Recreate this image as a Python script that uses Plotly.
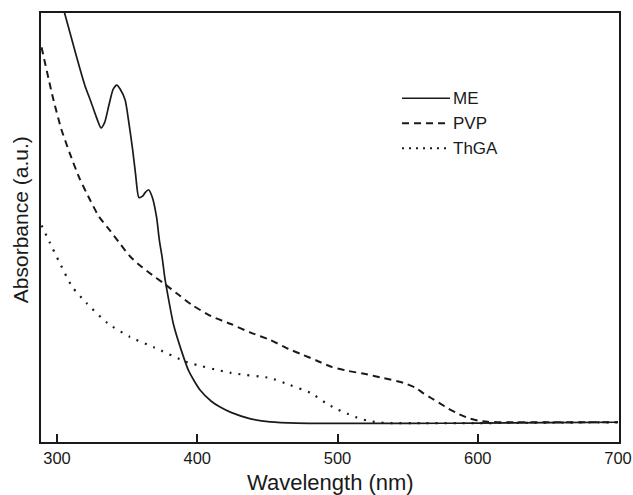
import plotly.graph_objects as go

# ---------------- data ----------------
me_wl = [289, 295, 300, 305, 310, 316, 320, 324, 328, 331.4, 334, 337, 340, 342.6, 345,
         348.6, 351, 354, 356, 358.4, 361, 363, 365.3, 368, 371, 373, 375, 377, 380, 383,
         388, 394, 402, 410, 416, 424, 438, 452, 471, 500, 550, 600, 650, 700]
me_abs = [121, 113, 107, 100.5, 94.5, 87.4, 83, 79.5, 75.8, 73.2, 74.5, 78.5, 82.2, 83.2, 82.3,
          79.7, 75, 68, 62.5, 57, 57.3, 58.2, 58.8, 57, 52.4, 47, 43, 38, 32.5, 27.5,
          22, 16.5, 12.1, 9.5, 8.2, 6.9, 5.4, 4.7, 4.4, 4.35, 4.35, 4.4, 4.5, 4.6]

pvp_wl = [289, 297, 303, 309, 316, 323.6, 330, 338, 345, 352, 359, 366, 376, 386, 396, 410,
          424, 438, 452, 465, 474, 485, 495, 507, 519, 533, 547, 556, 561, 567, 573, 579,
          586, 593, 600, 607, 620, 650, 700]
pvp_abs = [92, 80.4, 73, 67.4, 61.5, 56.4, 52.5, 49.2, 46.2, 43.3, 41.2, 39.4, 37, 34.5, 32, 29.3,
           27.5, 25.5, 23.8, 21.7, 20.5, 19, 17.6, 16.6, 15.9, 14.9, 13.8, 12.6, 11.4, 10.2, 9, 7.8,
           6.6, 5.6, 5, 4.7, 4.6, 4.6, 4.6]

thga_wl = [289, 295, 302, 311, 321, 336, 352, 369, 393, 424, 452, 466, 481, 493, 500, 507,
           514, 521, 528, 536, 560, 600, 650, 700]
thga_abs = [50.5, 46.4, 41.7, 36.1, 32.4, 27.7, 24.5, 22.1, 18.6, 16.1, 14.9, 13.3, 11.4, 8.8, 7.6, 6.6,
            5.7, 5.0, 4.6, 4.4, 4.4, 4.4, 4.5, 4.6]

series_names = ["ME", "PVP", "ThGA"]
x_ticks = [300, 400, 500, 600, 700]
x_title = "Wavelength (nm)"
y_title = "Absorbance (a.u.)"

# ---------------- styling ----------------
INK = "#1a1a1a"
FONT = "Arial, Liberation Sans, sans-serif"
dashes = ["solid", "7px,5px", "2px,7px"]
legend_dashes = ["solid", "7px,5px", "2px,5px"]
widths = [1.7, 2.0, 2.2]

fig = go.Figure()
for name, xs, ys, d, w in zip(series_names, [me_wl, pvp_wl, thga_wl],
                              [me_abs, pvp_abs, thga_abs], dashes, widths):
    fig.add_trace(go.Scatter(
        x=xs, y=ys, mode="lines", name=name, showlegend=False,
        line=dict(color=INK, width=w, dash=d, shape="spline", smoothing=0.6),
        hoverinfo="skip",
    ))

# manual legend (line sample touching label, as in reference)
leg_x0, leg_x1, leg_tx = 0.6246, 0.7076, 0.7093
leg_y = [0.8012, 0.7429, 0.6846]
for name, d, y in zip(series_names, legend_dashes, leg_y):
    fig.add_shape(type="line", xref="paper", yref="paper", x0=leg_x0, x1=leg_x1, y0=y, y1=y,
                  line=dict(color=INK, width=1.6 if d == "solid" else 2.0, dash=d))
    fig.add_annotation(text=name, xref="paper", yref="paper", x=leg_tx, y=y,
                       xanchor="left", yanchor="middle", showarrow=False,
                       font=dict(family=FONT, size=17, color=INK))

# axis titles
fig.add_annotation(text=x_title, xref="paper", yref="paper", x=0.5, y=0,
                   xanchor="center", yanchor="top", yshift=-26, showarrow=False,
                   font=dict(family=FONT, size=22, color=INK))
fig.add_annotation(text=y_title, xref="paper", yref="paper", x=0, y=0.517,
                   xanchor="center", yanchor="middle", xshift=-21, textangle=-90,
                   showarrow=False, font=dict(family=FONT, size=21, color=INK))

fig.update_layout(
    width=633, height=495,
    margin=dict(l=41, r=14, t=13, b=53, autoexpand=False),
    paper_bgcolor="white", plot_bgcolor="white",
    font=dict(family=FONT, color=INK),
)
fig.update_xaxes(
    range=[288.6, 700.7], tickvals=x_ticks, ticktext=[str(v) for v in x_ticks],
    ticks="inside", ticklen=8, tickwidth=2, tickcolor=INK,
    showline=True, linewidth=2, linecolor=INK, mirror=True,
    showgrid=False, zeroline=False, automargin=False,
    tickfont=dict(family=FONT, size=16.5, color=INK),
)
fig.update_yaxes(
    range=[0, 100], showticklabels=False, ticks="",
    showline=True, linewidth=2, linecolor=INK, mirror=True,
    showgrid=False, zeroline=False, automargin=False,
)

fig.write_html(
    "out.html",
    config={"displayModeBar": False},
    post_script="document.body.style.margin='0';document.body.style.overflow='hidden';",
)
